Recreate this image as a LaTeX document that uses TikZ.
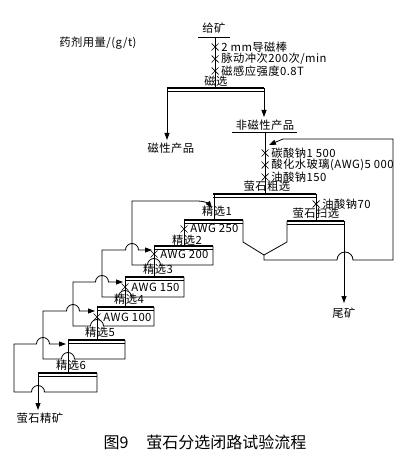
\documentclass[tikz,border=0pt]{standalone}
\usepackage{fontspec}
\setmainfont{Noto Sans CJK SC}
\newfontfamily\diagfont[LetterSpace=4]{Noto Sans CJK SC}
\usetikzlibrary{arrows.meta}
\newcommand\flotbar[3]{\draw[line width=1.6pt] ({#1},{#3})--({#2},{#3}); \draw[line width=0.6pt] ({#1},{#3+3})--({#2},{#3+3});}
\begin{document}
\begin{tikzpicture}[x=1pt,y=-1pt,line width=0.8pt,
  lab/.style={inner sep=0pt,font=\diagfont\fontsize{11.3}{12}\selectfont},
  arr/.style={-{Triangle[length=7pt,width=5pt]}},
  xm/.pic={\draw[line width=0.7pt] (-3.5,-3.5)--(3.5,3.5) (-3.5,3.5)--(3.5,-3.5);}]
\useasboundingbox (0,0) rectangle (406,457);

% ---- feed and magnetic separation
\node[lab] (feed) at (214,28) {给矿};
\coordinate (feedL) at (198,37); \coordinate (feedR) at (230,37);
\draw (feedL)--(feedR);
\coordinate (feedB) at (215,37); \coordinate (magT) at (215,88);
\draw (feedB)--(magT);
\pic at (215,47) {xm}; \pic at (215,59) {xm}; \pic at (215,71) {xm};
\node[lab,anchor=west] (m1) at (221,47) {2 mm导磁棒};
\node[lab,anchor=west] (m2) at (221,59) {脉动冲次200次/min};
\node[lab,anchor=west] (m3) at (221,71) {磁感应强度0.8T};
\node[lab] (dose) at (98,43) {药剂用量/(g/t)};
\node[lab] (magsep) at (216,81) {磁选};
\flotbar{167}{264}{88}
\coordinate (magL) at (167,88); \coordinate (magLe) at (167,140);
\coordinate (magR) at (264,88); \coordinate (magRe) at (264,117);
\draw[arr] (magL)--(magLe);
\draw[arr] (magR)--(magRe);
\node[lab] (magprod) at (171,148) {磁性产品};
\node[lab] (nonmag) at (265,125) {非磁性产品};
\coordinate (nmL) at (232,132); \coordinate (nmR) at (297,132);
\draw (nmL)--(nmR);

% ---- rougher
\coordinate (nmB) at (265,132); \coordinate (roT) at (265,194);
\draw (nmB)--(roT);
\pic at (265,153) {xm}; \pic at (265,165) {xm}; \pic at (265,177) {xm};
\node[lab,anchor=west] (r1) at (271,153) {碳酸钠1 500};
\node[lab,anchor=west] (r2) at (271,165) {酸化水玻璃(AWG)5 000};
\node[lab,anchor=west] (r3) at (271,177) {油酸钠150};
\node[lab] (rough) at (267,186) {萤石粗选};
\flotbar{213}{316}{194}
\coordinate (roL) at (214,194); \coordinate (c1f) at (214,220);
\draw (roL)--(c1f);
\coordinate (roR) at (316,194); \coordinate (scf) at (316,221);
\draw (roR)--(scf);
\pic at (316,204) {xm};
\node[lab,anchor=west] (s1) at (322,204) {油酸钠70};

% ---- scavenger
\node[lab] (scav) at (316,213) {萤石扫选};
\flotbar{287}{344}{221}
\coordinate (scL) at (287,221); \coordinate (vR) at (287,242);
\coordinate (vM) at (264,255); \coordinate (vB) at (264,260);
\draw (scL)--(vR)--(vM);
\coordinate (scR) at (344,221); \coordinate (tailA) at (344,303);
\draw[arr] (scR)--(tailA);
\node[lab] (tail) at (344,313) {尾矿};

% ---- cleaner 1
\node[lab] (cl1) at (217,211) {精选1};
\flotbar{184}{243}{220}
\coordinate (c1R) at (243,220); \coordinate (vL) at (243,242);
\coordinate (retR) at (393,260); \coordinate (retT) at (393,139);
\coordinate (retK) at (283,139); \coordinate (retA) at (269,145);
\draw[arr] (c1R)--(vL)--(vM)--(vB)--(337,260) arc[start angle=180,end angle=360,radius=8]
  --(retR)--(retT)--(retK)--(retA);
\coordinate (c1L) at (184,220); \coordinate (c2f) at (184,246);
\draw (c1L)--(c2f);
\pic at (184,229) {xm};
\node[lab,anchor=west] (a1) at (190,228.5) {AWG 250};

% ---- cleaner 2
\node[lab] (cl2) at (187,240.5) {精选2};
\flotbar{154}{213}{246}
\draw[arr] (213,246)--(213,265)--(160.5,265) arc[start angle=0,end angle=-180,radius=6.5]
  --(132,265)--(132,201)--(198,201) .. controls (205,201) and (209,204) .. (212,208);
\draw (154,246)--(154,277);
\pic at (154,254) {xm};
\node[lab,anchor=west] (a2) at (160,254) {AWG 200};

% ---- cleaner 3
\node[lab] (cl3) at (158,269) {精选3};
\flotbar{125}{184}{277}
\draw[arr] (184,277)--(184,297)--(131.5,297) arc[start angle=0,end angle=-180,radius=6.5]
  --(102,297)--(102,250)--(125.5,250) arc[start angle=180,end angle=360,radius=6.5]--(152,250);
\draw (125,277)--(125,307);
\pic at (125,287) {xm};
\node[lab,anchor=west] (a3) at (131,287) {AWG 150};

% ---- cleaner 4
\node[lab] (cl4) at (129,299) {精选4};
\flotbar{97}{154}{307}
\draw[arr] (154,307)--(154,326)--(103.5,326) arc[start angle=0,end angle=-180,radius=6.5]
  --(73,326)--(73,282)--(95.5,282) arc[start angle=180,end angle=360,radius=6.5]--(123,282);
\draw (97,307)--(97,340);
\pic at (97,317) {xm};
\node[lab,anchor=west] (a4) at (103,317) {AWG 100};

% ---- cleaner 5
\node[lab] (cl5) at (100,332) {精选5};
\flotbar{68}{125}{340}
\draw[arr] (125,340)--(125,359)--(74.5,359) arc[start angle=0,end angle=-180,radius=6.5]
  --(43,359)--(43,311)--(66.5,311) arc[start angle=180,end angle=360,radius=6.5]--(95,311);
\draw (68,340)--(68,373);

% ---- cleaner 6
\node[lab] (cl6) at (71,365) {精选6};
\flotbar{38}{97}{373}
\draw[arr] (97,373)--(97,392)--(44.5,392) arc[start angle=0,end angle=-180,radius=6.5]
  --(14,392)--(14,344)--(36.5,344) arc[start angle=180,end angle=360,radius=6.5]--(66,344);
\coordinate (c6L) at (38,373); \coordinate (concA) at (38,410);
\draw[arr] (c6L)--(concA);
\node[lab] (conc) at (40,418) {萤石精矿};

% ---- caption
\node[inner sep=0pt,font=\fontsize{16}{17}\selectfont] (cap) at (205,442) {图9\hspace{18pt}萤石分选闭路试验流程};
\end{tikzpicture}
\end{document}
